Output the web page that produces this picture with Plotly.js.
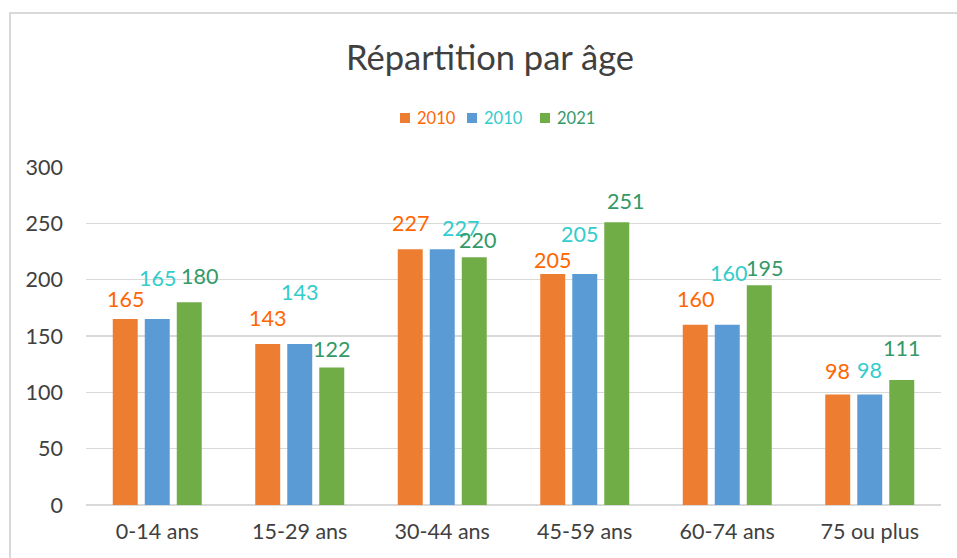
<!DOCTYPE html>
<html>
<head>
<meta charset="utf-8">
<script src="https://cdn.plot.ly/plotly-3.0.1.min.js"></script>
<style>
  html, body { margin: 0; padding: 0; background: #fff; overflow: hidden; }
  #chart { position: absolute; left: 0; top: 0; width: 957px; height: 558px; }
  #frame { position: absolute; left: 9px; top: 12px; width: 2000px; height: 2000px;
           border-left: 2px solid #d9d9d9; border-top: 2px solid #d9d9d9; pointer-events: none; }
</style>
</head>
<body>
<div id="chart"></div>
<div id="frame"></div>
<script>
// ---- data ----
const categories = ["0-14 ans", "15-29 ans", "30-44 ans", "45-59 ans", "60-74 ans", "75 ou plus"];
const seriesNames = ["2010", "2010", "2021"];
const values2010a = [165, 143, 227, 205, 160, 98];
const values2010b = [165, 143, 227, 205, 160, 98];
const values2021  = [180, 122, 220, 251, 195, 111];
const yTicks = [0, 50, 100, 150, 200, 250, 300];

// ---- styles ----
const barColors   = ["#ED7D31", "#5B9BD5", "#70AD47"];
const labelColors = ["#FF6600", "#33CCCC", "#339966"];
const FONT = "Lato, 'Open Sans', sans-serif";
// label nudges (px) relative to the bar top, per series
const labelDx = [[0,0,0,0,0,0],[0,0,18,-5,1,0],[10,0,3,9,5,0]];
const labelDy = [[20,26,26,14,26,24],[41,52,21,40,52,25],[26,19,17,21,17,32]];
const slotPx = 32;

// plot-area geometry in page pixels (matches margins below)
const M = { l: 86, r: 16, t: 167, b: 53 };
const W = 957, H = 558;
const plotW = W - M.l - M.r, plotH = H - M.t - M.b;
const pxX = px => (px - M.l) / plotW;
const pxY = py => (H - M.b - py) / plotH;
// legend layout (page pixels)
const legendSquareLeft = [400, 467, 540];
const legendTextGap = 5, legendSquare = 10, legendCenterY = 118;

const allValues = [values2010a, values2010b, values2021];

const traces = allValues.map((vals, s) => ({
  type: "bar",
  x: categories,
  y: vals,
  name: seriesNames[s],
  marker: { color: barColors[s] },
  hoverinfo: "x+y"
}));

const annotations = [];
allValues.forEach((vals, s) => {
  vals.forEach((v, i) => {
    annotations.push({
      x: categories[i], y: v, xref: "x", yref: "y",
      text: String(v), showarrow: false,
      xanchor: "center", yanchor: "middle",
      xshift: (s - 1) * slotPx + labelDx[s][i],
      yshift: labelDy[s][i],
      font: { family: FONT, size: 21.5, color: labelColors[s] }
    });
  });
});

// legend: coloured squares + coloured names
const shapes = [];
seriesNames.forEach((nm, s) => {
  const x0 = legendSquareLeft[s];
  shapes.push({
    type: "rect", xref: "paper", yref: "paper", layer: "above",
    x0: pxX(x0), x1: pxX(x0 + legendSquare),
    y0: pxY(legendCenterY + legendSquare / 2), y1: pxY(legendCenterY - legendSquare / 2),
    fillcolor: barColors[s], line: { width: 0 }
  });
  annotations.push({
    xref: "paper", yref: "paper",
    x: pxX(x0 + legendSquare + legendTextGap), y: pxY(legendCenterY),
    xanchor: "left", yanchor: "middle", showarrow: false,
    text: nm, font: { family: FONT, size: 16.5, color: labelColors[s] }
  });
});

const layout = {
  width: W, height: H,
  margin: M,
  paper_bgcolor: "#fff", plot_bgcolor: "#fff",
  font: { family: FONT, color: "#404040" },
  title: {
    text: "Répartition par âge",
    font: { family: FONT, size: 34.5, color: "#404040" },
    x: 0.512, xanchor: "center", xref: "container",
    y: 1 - 58 / 558, yanchor: "middle", yref: "container"
  },
  showlegend: false,
  bargap: 0.326,
  bargroupgap: 0.22,
  xaxis: {
    type: "category",
    tickfont: { family: FONT, size: 21.5, color: "#404040" },
    showgrid: false, showline: false, ticks: "",
    ticklabelstandoff: 11
  },
  yaxis: {
    range: [0, 300],
    tickvals: yTicks,
    tickfont: { family: FONT, size: 21.5, color: "#404040" },
    gridcolor: "#d9d9d9", gridwidth: 1.5,
    zeroline: true, zerolinecolor: "#d9d9d9", zerolinewidth: 1.5,
    showline: false, ticks: "",
    ticklabelstandoff: 22
  },
  shapes: shapes,
  annotations: annotations
};

Plotly.newPlot("chart", traces, layout, { displayModeBar: false, staticPlot: true });
</script>
</body>
</html>
